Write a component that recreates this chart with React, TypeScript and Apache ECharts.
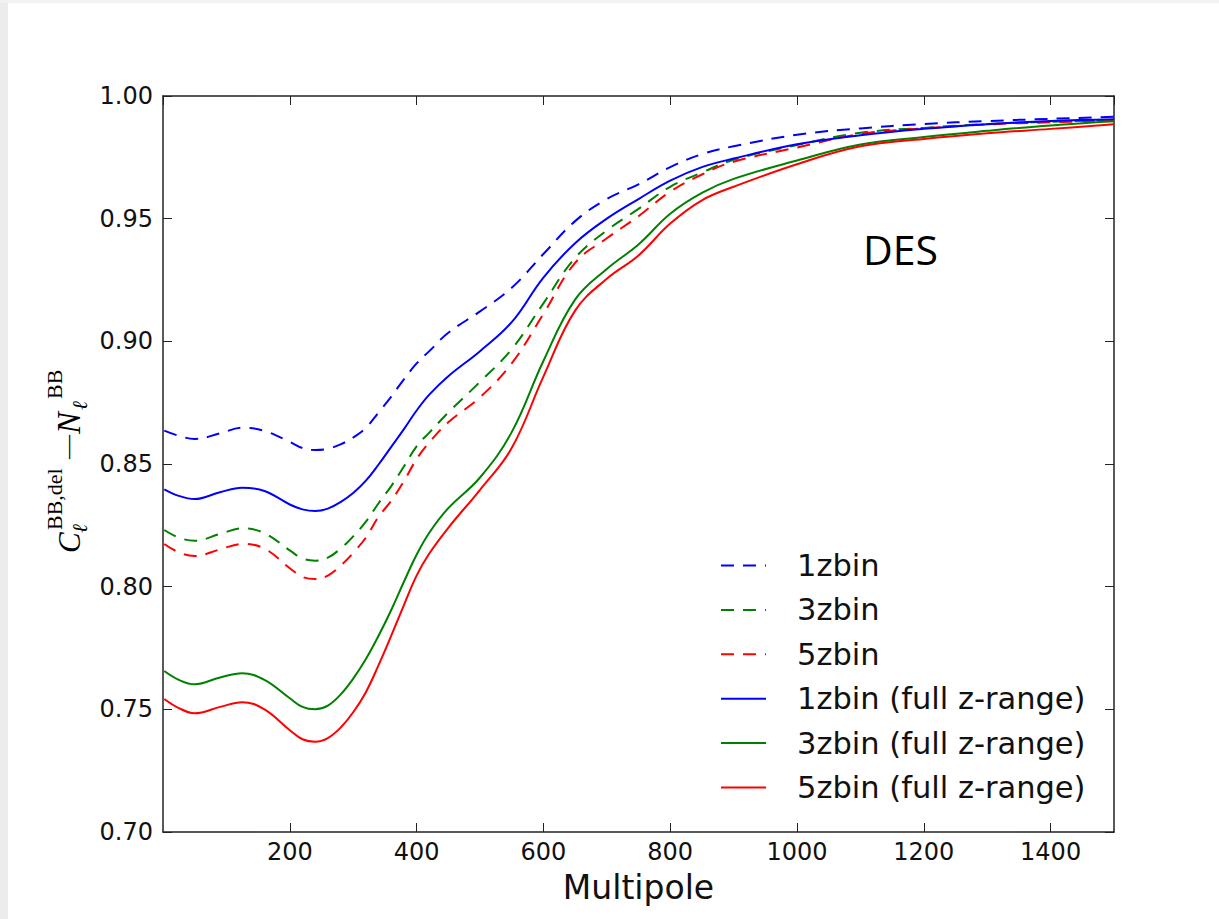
import React, { useEffect, useRef } from "react";
import * as echarts from "echarts";

// Multipole values where the curves are sampled
const multipoles = [2, 25, 50, 90, 125, 160, 200, 220, 240, 260, 280, 300, 320, 340, 360, 380, 400, 420, 450, 500, 550, 600, 650, 700, 750, 800, 850, 900, 1000, 1100, 1200, 1300, 1400, 1500];

const bin1 = [0.8636, 0.8615, 0.8602, 0.8625, 0.8648, 0.8635, 0.859, 0.8565, 0.8557, 0.8562, 0.858, 0.8608, 0.8648, 0.871, 0.8775, 0.8845, 0.891, 0.896, 0.9035, 0.9122, 0.9218, 0.9356, 0.949, 0.958, 0.964, 0.971, 0.9763, 0.9795, 0.9842, 0.9868, 0.9886, 0.9898, 0.9907, 0.9915];
const bin3 = [0.8231, 0.82, 0.8187, 0.8215, 0.8238, 0.8218, 0.8148, 0.8115, 0.8106, 0.8118, 0.8155, 0.8205, 0.8265, 0.834, 0.841, 0.849, 0.8572, 0.8628, 0.871, 0.8835, 0.8968, 0.9155, 0.934, 0.9452, 0.954, 0.963, 0.9688, 0.974, 0.98, 0.985, 0.987, 0.9886, 0.9895, 0.9902];
const bin5 = [0.8174, 0.814, 0.8125, 0.8152, 0.8174, 0.8155, 0.8075, 0.804, 0.8031, 0.8045, 0.8085, 0.8138, 0.82, 0.8285, 0.835, 0.843, 0.852, 0.8588, 0.867, 0.8772, 0.891, 0.9112, 0.932, 0.942, 0.951, 0.961, 0.968, 0.9732, 0.979, 0.9845, 0.9868, 0.9884, 0.9893, 0.99];
const bin1Full = [0.8397, 0.837, 0.8357, 0.8385, 0.8403, 0.839, 0.8335, 0.8315, 0.8308, 0.8318, 0.8345, 0.8382, 0.8432, 0.8498, 0.857, 0.8642, 0.8718, 0.8783, 0.8858, 0.896, 0.9078, 0.926, 0.94, 0.95, 0.958, 0.9655, 0.971, 0.9745, 0.9803, 0.984, 0.9866, 0.9885, 0.9898, 0.9905];
const bin3Full = [0.7656, 0.762, 0.7602, 0.763, 0.7647, 0.762, 0.7545, 0.751, 0.75, 0.7515, 0.756, 0.7625, 0.7705, 0.78, 0.7905, 0.802, 0.813, 0.822, 0.832, 0.8445, 0.863, 0.892, 0.917, 0.9295, 0.9395, 0.952, 0.9605, 0.9662, 0.9737, 0.9802, 0.9833, 0.9858, 0.988, 0.9897];
const bin5Full = [0.7542, 0.7505, 0.7484, 0.751, 0.7529, 0.75, 0.7415, 0.7378, 0.7368, 0.7383, 0.7425, 0.7488, 0.757, 0.768, 0.78, 0.7925, 0.8045, 0.8135, 0.824, 0.8395, 0.8565, 0.8856, 0.9125, 0.9255, 0.935, 0.948, 0.9575, 0.963, 0.9722, 0.9795, 0.9825, 0.9848, 0.9866, 0.9885];

const seriesNames = ["1zbin", "3zbin", "5zbin", "1zbin (full z-range)", "3zbin (full z-range)", "5zbin (full z-range)"];
const seriesValues = [bin1, bin3, bin5, bin1Full, bin3Full, bin5Full];
const seriesColors = ["#0000ff", "#008000", "#ff0000", "#0000ff", "#008000", "#ff0000"];
const seriesDashed = [true, true, true, false, false, false];

const xTickMin = 0;
const xTickMax = 1500;
const xTickStep = 200;
const yTickMin = 0.7;
const yTickMax = 1.0;
const yTickStep = 0.05;

const annotation = "DES";

export default function App() {
  const ref = useRef<HTMLDivElement>(null);

  useEffect(() => {
    if (!ref.current) return;
    const chart = echarts.init(ref.current, null, { renderer: "svg" });
    const frame = { show: true, onZero: false, lineStyle: { color: "#222", width: 1.5 } };
    const tick = { show: true, inside: true, length: 9, lineStyle: { color: "#222", width: 1 } };
    const labelFont = { fontFamily: "DejaVu Sans", fontSize: 24, color: "#111" };
    const serif = "'Liberation Serif', 'DejaVu Serif', serif";

    const option: any = {
      animation: false,
      backgroundColor: "#ffffff",
      grid: { left: 163, top: 96, width: 951, height: 736, containLabel: false },
      xAxis: [
        {
          type: "value",
          min: xTickMin,
          max: xTickMax,
          interval: xTickStep,
          position: "bottom",
          axisLine: frame,
          axisTick: tick,
          splitLine: { show: false },
          axisLabel: { ...labelFont, margin: 8, showMinLabel: false, showMaxLabel: false, formatter: (v: number) => String(v) },
          name: "Multipole",
          nameLocation: "middle",
          nameGap: 39,
          nameTextStyle: { fontFamily: "DejaVu Sans", fontSize: 33, color: "#111" },
        },
        {
          type: "value",
          min: xTickMin,
          max: xTickMax,
          interval: xTickStep,
          position: "top",
          axisLine: frame,
          axisTick: tick,
          splitLine: { show: false },
          axisLabel: { show: false },
        },
      ],
      yAxis: [
        {
          type: "value",
          min: yTickMin,
          max: yTickMax,
          interval: yTickStep,
          position: "left",
          axisLine: frame,
          axisTick: tick,
          splitLine: { show: false },
          axisLabel: { ...labelFont, margin: 10, formatter: (v: number) => v.toFixed(2) },
        },
        {
          type: "value",
          min: yTickMin,
          max: yTickMax,
          interval: yTickStep,
          position: "right",
          axisLine: frame,
          axisTick: tick,
          splitLine: { show: false },
          axisLabel: { show: false },
        },
      ],
      legend: {
        orient: "vertical",
        left: 720,
        top: 550,
        padding: 0,
        itemWidth: 45,
        itemHeight: 14,
        itemGap: 13.4,
        itemStyle: { opacity: 0, borderWidth: 0 },
        data: seriesNames,
        textStyle: { fontFamily: "DejaVu Sans", fontSize: 30.5, lineHeight: 30, color: "#111", padding: [0, 0, 0, 26] },
      },
      series: seriesNames.map((name, i) => ({
        name,
        type: "line",
        xAxisIndex: 0,
        yAxisIndex: 0,
        data: multipoles.map((m, j) => [m, seriesValues[i][j]]),
        smooth: 0.4,
        showSymbol: false,
        symbol: "none",
        color: seriesColors[i],
        lineStyle: { color: seriesColors[i], width: 2, type: seriesDashed[i] ? [13, 9] : "solid" },
        z: 2,
      })),
      graphic: [
        { type: "rect", left: 0, top: 0, shape: { width: 8, height: 919 }, style: { fill: "#ececec" }, z: -1 },
        { type: "rect", left: 0, top: 0, shape: { width: 1219, height: 3 }, style: { fill: "#f2f2f2" }, z: -1 },
        {
          type: "text",
          x: 863,
          y: 249,
          style: { text: annotation, fontFamily: "'Open Sans', 'Noto Sans', sans-serif", fontSize: 41, fill: "#000", align: "left", verticalAlign: "middle" },
        },
        {
          type: "group",
          x: 79,
          y: 553,
          rotation: Math.PI / 2,
          children: [
            { type: "text", x: 0, y: -10, style: { text: "C", fontFamily: serif, fontStyle: "italic", fontSize: 31, fill: "#000", align: "left", verticalAlign: "middle" } },
            { type: "text", x: 23, y: -25, style: { text: "BB,del", fontFamily: serif, fontSize: 22, fill: "#000", align: "left", verticalAlign: "middle" } },
            { type: "text", x: 20, y: 1, style: { text: "ℓ", fontFamily: serif, fontStyle: "italic", fontSize: 21, fill: "#000", align: "left", verticalAlign: "middle" } },
            { type: "text", x: 94, y: -12, style: { text: "—", fontFamily: serif, fontSize: 24, fill: "#000", align: "left", verticalAlign: "middle" } },
            { type: "text", x: 119, y: -10, style: { text: "N", fontFamily: serif, fontStyle: "italic", fontSize: 33, fill: "#000", align: "left", verticalAlign: "middle" } },
            { type: "text", x: 154, y: -25, style: { text: "BB", fontFamily: serif, fontSize: 22, fill: "#000", align: "left", verticalAlign: "middle" } },
            { type: "text", x: 143, y: 1, style: { text: "ℓ", fontFamily: serif, fontStyle: "italic", fontSize: 21, fill: "#000", align: "left", verticalAlign: "middle" } },
          ],
        },
      ],
    };
    chart.setOption(option);
    return () => chart.dispose();
  }, []);

  return <div ref={ref} style={{ position: "absolute", left: 0, top: 0, width: 1219, height: 919 }} />;
}
